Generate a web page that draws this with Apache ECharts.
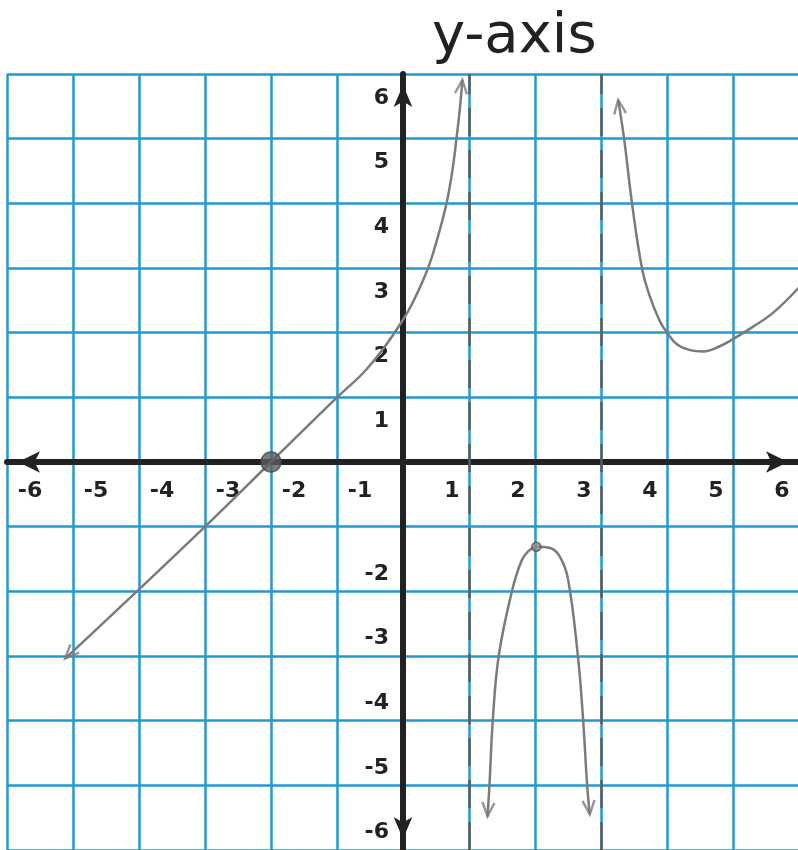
<!DOCTYPE html>
<html>
<head>
<meta charset="utf-8">
<script src="https://cdn.jsdelivr.net/npm/echarts@6/dist/echarts.min.js"></script>
<style>
  html, body { margin: 0; padding: 0; background: #ffffff; }
  #chart { width: 798px; height: 850px; }
</style>
</head>
<body>
<div id="chart"></div>
<script>
// Branches of the rational function, [x, y] pairs
const leftBranch = [
  [-5.12, -3.04], [-4.5, -2.45], [-4.0, -1.97], [-3.0, -1.0], [-2.0, 0.0],
  [-1.0, 1.0], [-0.6, 1.38], [-0.3, 1.75], [0.0, 2.2], [0.15, 2.47], [0.38, 3.0],
  [0.53, 3.49], [0.66, 4.0], [0.75, 4.52], [0.81, 5.0], [0.86, 5.45], [0.9, 5.91]
];
const middleBranch = [
  [1.28, -5.48], [1.31, -5.0], [1.36, -4.0], [1.45, -3.0], [1.65, -2.0],
  [1.8, -1.52], [1.92, -1.36], [2.02, -1.31], [2.23, -1.33], [2.38, -1.47],
  [2.5, -1.81], [2.65, -3.0], [2.73, -4.0], [2.79, -5.0], [2.83, -5.45]
];
const rightBranch = [
  [3.26, 5.6], [3.35, 5.0], [3.47, 4.0], [3.62, 3.0], [3.74, 2.56],
  [3.89, 2.18], [4.0, 2.0], [4.15, 1.82], [4.35, 1.73], [4.55, 1.71],
  [4.8, 1.79], [5.0, 1.9], [5.3, 2.09], [5.61, 2.31], [6.0, 2.7]
];
// Vertical asymptotes
const asymptotes = [1, 3];
// Marked points: x-intercept and local maximum
const xIntercept = [-2, 0];
const localMax = [2.02, -1.31];
// Tick labels that are written on each axis
const xTickLabels = [-6, -5, -4, -3, -2, -1, 1, 2, 3, 4, 5, 6];
const yTickLabels = [-6, -5, -4, -3, -2, 1, 2, 3, 4, 5, 6];

const CURVE = '#7b7b7b';
const AXIS = '#222222';
const GRIDBLUE = '#2299cf';
const LABEL_FONT = { fontFamily: 'DejaVu Sans', fontSize: 22, fontWeight: 'bold', color: '#222' };

const GRID = { left: 7, top: 74, width: 792, height: 776 };

// Open "V" arrowhead, pointing up before rotation
const ARROW_PATH = 'path://M0,12 L6,0 L12,12';
const ARROW_H = 14;
function arrowItem(point, deg) {
  const t = deg * Math.PI / 180;
  return {
    value: point,
    symbolRotate: deg,
    // shift so the tip, not the centre, sits on the curve end
    symbolOffset: [ARROW_H / 2 * Math.sin(t), ARROW_H / 2 * Math.cos(t)]
  };
}
const arrowHeads = [
  arrowItem(leftBranch[0], 136),
  arrowItem(leftBranch[leftBranch.length - 1], -6),
  arrowItem(middleBranch[0], 176),
  arrowItem(middleBranch[middleBranch.length - 1], 185),
  arrowItem(rightBranch[0], 8)
];

function curveSeries(data) {
  return {
    type: 'line', data: data, smooth: 0.4, symbol: 'none',
    lineStyle: { color: CURVE, width: 2.5 }, z: 3
  };
}

const chart = echarts.init(document.getElementById('chart'));
const lines = [curveSeries(leftBranch), curveSeries(middleBranch), curveSeries(rightBranch)];
lines[0].markLine = {
  silent: true, symbol: 'none', label: { show: false },
  lineStyle: { color: '#5c5c5c', width: 2.5, type: [28, 14] },
  data: asymptotes.map(v => ({ xAxis: v }))
};

// The axes cross at the origin: shift each axis from the grid edge to the zero line
const xAxisShift = -(GRID.height / 2);
const yAxisShift = -(GRID.width / 2);

chart.setOption({
  animation: false,
  backgroundColor: '#ffffff',
  grid: Object.assign({ containLabel: false, outerBoundsMode: 'none' }, GRID),
  graphic: [{
    type: 'text', left: 432, top: 9, z: 10,
    style: { text: 'y-axis', font: '56px "DejaVu Sans"', fill: '#222' }
  }],
  xAxis: {
    type: 'value', min: -6, max: 6, interval: 1,
    position: 'bottom', offset: xAxisShift,
    axisLine: {
      onZero: false, lineStyle: { color: AXIS, width: 6 },
      symbol: ['arrow', 'arrow'], symbolSize: [16, 22], symbolOffset: [11, -11]
    },
    axisTick: { show: false },
    splitLine: { show: true, lineStyle: { color: GRIDBLUE, width: 2.5 } },
    axisLabel: Object.assign({
      margin: 18,
      formatter: v => xTickLabels.includes(v) ? (v < 0 ? '{n|' + v + '}' : '{p|' + v + '}') : '',
      rich: {
        n: Object.assign({ padding: [0, 0, 0, 46] }, LABEL_FONT),
        p: Object.assign({ padding: [0, 34, 0, 0] }, LABEL_FONT)
      }
    }, LABEL_FONT)
  },
  yAxis: {
    type: 'value', min: -6, max: 6, interval: 1,
    position: 'left', offset: yAxisShift,
    axisLine: {
      onZero: false, lineStyle: { color: AXIS, width: 6 },
      symbol: ['arrow', 'arrow'], symbolSize: [14, 22], symbolOffset: [11, -11]
    },
    axisTick: { show: false },
    splitLine: { show: true, lineStyle: { color: GRIDBLUE, width: 2.5 } },
    axisLabel: Object.assign({
      margin: 14,
      formatter: v => yTickLabels.includes(v) ? (v < 0 ? '{n|' + v + '}' : '{p|' + v + '}') : '',
      rich: {
        n: Object.assign({ padding: [0, 0, 35, 0] }, LABEL_FONT),
        p: Object.assign({ padding: [48, 0, 0, 0] }, LABEL_FONT)
      }
    }, LABEL_FONT)
  },
  series: lines.concat([
    {
      type: 'scatter', data: arrowHeads, symbol: ARROW_PATH,
      symbolSize: [12, ARROW_H], symbolKeepAspect: false,
      itemStyle: { color: 'transparent', borderColor: CURVE, borderWidth: 2.5 },
      z: 4, silent: true
    },
    {
      type: 'scatter', data: [xIntercept], symbol: 'circle', symbolSize: 20,
      itemStyle: { color: '#5a5f62', borderColor: '#444', borderWidth: 1.5 }, z: 5
    },
    {
      type: 'scatter', data: [localMax], symbol: 'circle', symbolSize: 9,
      itemStyle: { color: '#8a9090', borderColor: '#555', borderWidth: 1.5 }, z: 5
    }
  ])
});
</script>
</body>
</html>
